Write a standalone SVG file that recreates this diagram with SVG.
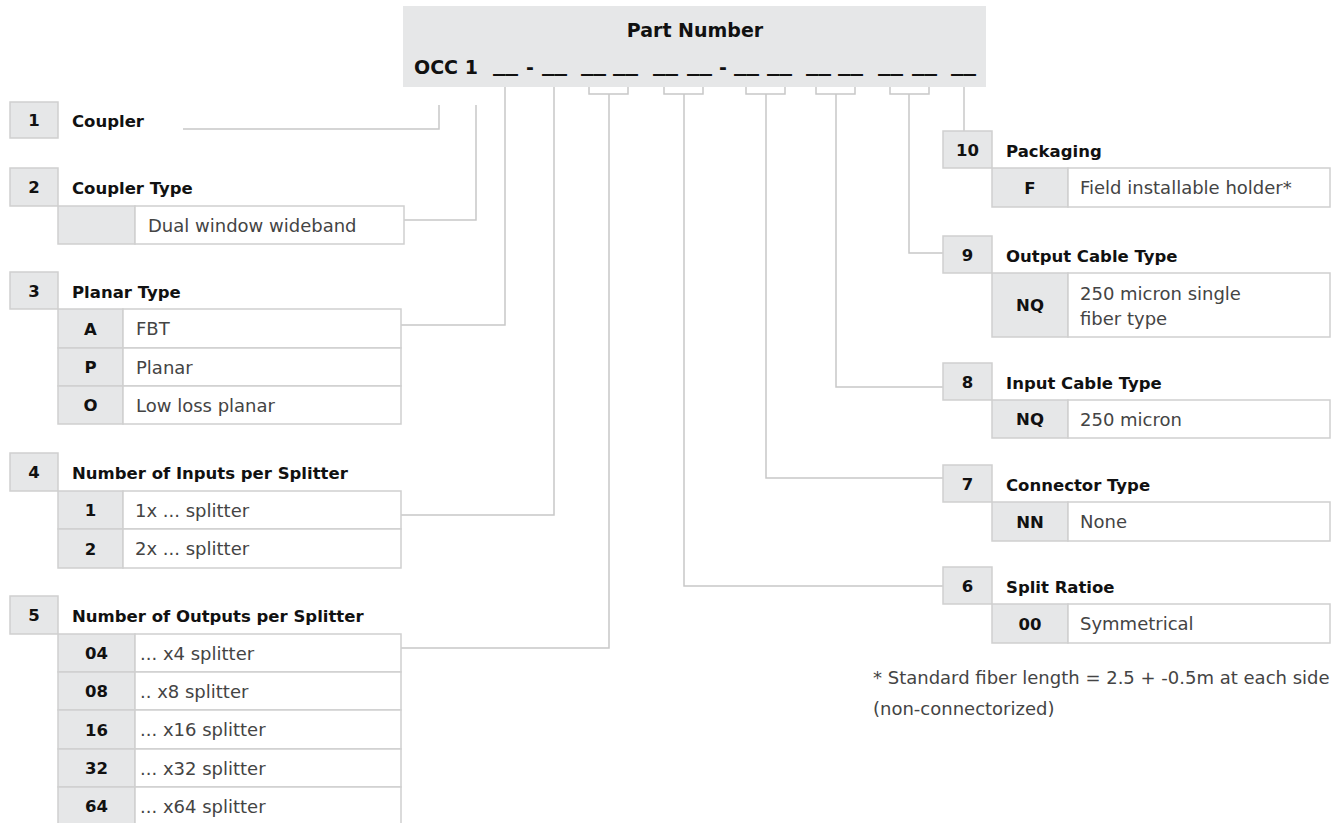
<svg xmlns="http://www.w3.org/2000/svg" width="1333" height="823" viewBox="0 0 1333 823">
<style>
.bg{fill:#ffffff}
.hdr{fill:#e6e7e8}
.box{fill:#e6e7e8;stroke:#cfcfcf;stroke-width:1.5}
.cell{fill:#ffffff;stroke:#cfcfcf;stroke-width:1.5}
.title{font-family:"DejaVu Sans",sans-serif;font-weight:bold;font-size:19px;fill:#111}
.blank{font-family:"DejaVu Sans",sans-serif;font-weight:bold;font-size:22px;fill:#111}
.lbl{font-family:"DejaVu Sans",sans-serif;font-weight:bold;font-size:16.5px;fill:#111}
.num{font-family:"DejaVu Sans",sans-serif;font-weight:bold;font-size:16.5px;fill:#111;text-anchor:middle}
.desc{font-family:"DejaVu Sans",sans-serif;font-size:18px;fill:#444}
.conn{fill:none;stroke:#c8c8c8;stroke-width:1.5}
</style>
<rect class="bg" x="0" y="0" width="1333" height="823"/>

<g id="header">
<rect class="hdr" x="403" y="6" width="583" height="81"/>
<text class="title" x="695" y="37" text-anchor="middle">Part Number</text>
<text class="title" x="414" y="74">OCC 1</text>
<text class="blank" x="493" y="71" textLength="25" lengthAdjust="spacingAndGlyphs">__</text>
<text class="title" x="530" y="74" text-anchor="middle">-</text>
<text class="blank" x="542" y="71" textLength="25" lengthAdjust="spacingAndGlyphs">__</text>
<text class="blank" x="581" y="71" textLength="25" lengthAdjust="spacingAndGlyphs">__</text>
<text class="blank" x="613" y="71" textLength="25" lengthAdjust="spacingAndGlyphs">__</text>
<text class="blank" x="653" y="71" textLength="25" lengthAdjust="spacingAndGlyphs">__</text>
<text class="blank" x="687" y="71" textLength="25" lengthAdjust="spacingAndGlyphs">__</text>
<text class="title" x="723" y="74" text-anchor="middle">-</text>
<text class="blank" x="734" y="71" textLength="25" lengthAdjust="spacingAndGlyphs">__</text>
<text class="blank" x="767" y="71" textLength="25" lengthAdjust="spacingAndGlyphs">__</text>
<text class="blank" x="806" y="71" textLength="25" lengthAdjust="spacingAndGlyphs">__</text>
<text class="blank" x="838" y="71" textLength="25" lengthAdjust="spacingAndGlyphs">__</text>
<text class="blank" x="878" y="71" textLength="25" lengthAdjust="spacingAndGlyphs">__</text>
<text class="blank" x="912" y="71" textLength="25" lengthAdjust="spacingAndGlyphs">__</text>
<text class="blank" x="951" y="71" textLength="25" lengthAdjust="spacingAndGlyphs">__</text>
</g>

<g id="connectors">
<path class="conn" d="M439,105 V129 H183"/>
<path class="conn" d="M476,105 V220 H404"/>
<path class="conn" d="M505,87 V325 H401"/>
<path class="conn" d="M554,87 V515 H401"/>
<path class="conn" d="M589,87 V94 H628 V87 M609,94 V648 H401"/>
<path class="conn" d="M664,87 V94 H703 V87 M684,94 V586 H943"/>
<path class="conn" d="M746,87 V94 H785 V87 M766,94 V478 H943"/>
<path class="conn" d="M816,87 V94 H855 V87 M836,94 V387 H943"/>
<path class="conn" d="M890,87 V94 H929 V87 M909,94 V253 H943"/>
<path class="conn" d="M964,87 V131"/>
</g>

<g id="sec1">
<rect class="box" x="10" y="102" width="48" height="36"/>
<text class="num" x="34" y="126">1</text>
<text class="lbl" x="72" y="127">Coupler</text>
</g>

<g id="sec2">
<rect class="box" x="10" y="168" width="48" height="38"/>
<text class="num" x="34" y="193">2</text>
<text class="lbl" x="72" y="194">Coupler Type</text>
<rect class="box" x="58" y="206" width="77" height="38"/>
<rect class="cell" x="135" y="206" width="269" height="38"/>
<text class="desc" x="148" y="231.5">Dual window wideband</text>
</g>

<g id="sec3">
<rect class="box" x="10" y="272" width="48" height="37"/>
<text class="num" x="34" y="296.5">3</text>
<text class="lbl" x="72" y="297.5">Planar Type</text>
<rect class="box" x="58" y="309" width="65" height="39"/>
<rect class="cell" x="123" y="309" width="278" height="39"/>
<text class="num" x="90.5" y="334.5">A</text>
<text class="desc" x="136" y="335">FBT</text>
<rect class="box" x="58" y="348" width="65" height="38"/>
<rect class="cell" x="123" y="348" width="278" height="38"/>
<text class="num" x="90.5" y="373">P</text>
<text class="desc" x="136" y="373.5">Planar</text>
<rect class="box" x="58" y="386" width="65" height="38"/>
<rect class="cell" x="123" y="386" width="278" height="38"/>
<text class="num" x="90.5" y="411">O</text>
<text class="desc" x="136" y="411.5">Low loss planar</text>
</g>

<g id="sec4">
<rect class="box" x="10" y="453" width="48" height="38"/>
<text class="num" x="34" y="478">4</text>
<text class="lbl" x="72" y="479">Number of Inputs per Splitter</text>
<rect class="box" x="58" y="491" width="65" height="38"/>
<rect class="cell" x="123" y="491" width="278" height="38"/>
<text class="num" x="90.5" y="516">1</text>
<text class="desc" x="135" y="516.5">1x ... splitter</text>
<rect class="box" x="58" y="529" width="65" height="39"/>
<rect class="cell" x="123" y="529" width="278" height="39"/>
<text class="num" x="90.5" y="554.5">2</text>
<text class="desc" x="135" y="555">2x ... splitter</text>
</g>

<g id="sec5">
<rect class="box" x="10" y="596" width="48" height="38"/>
<text class="num" x="34" y="621">5</text>
<text class="lbl" x="72" y="622">Number of Outputs per Splitter</text>
<rect class="box" x="58" y="634" width="77" height="38"/>
<rect class="cell" x="135" y="634" width="266" height="38"/>
<text class="num" x="96.5" y="659">04</text>
<text class="desc" x="140" y="659.5">... x4 splitter</text>
<rect class="box" x="58" y="672" width="77" height="38"/>
<rect class="cell" x="135" y="672" width="266" height="38"/>
<text class="num" x="96.5" y="697">08</text>
<text class="desc" x="140" y="697.5">.. x8 splitter</text>
<rect class="box" x="58" y="710" width="77" height="39"/>
<rect class="cell" x="135" y="710" width="266" height="39"/>
<text class="num" x="96.5" y="735.5">16</text>
<text class="desc" x="140" y="736">... x16 splitter</text>
<rect class="box" x="58" y="749" width="77" height="38"/>
<rect class="cell" x="135" y="749" width="266" height="38"/>
<text class="num" x="96.5" y="774">32</text>
<text class="desc" x="140" y="774.5">... x32 splitter</text>
<rect class="box" x="58" y="787" width="77" height="38"/>
<rect class="cell" x="135" y="787" width="266" height="38"/>
<text class="num" x="96.5" y="812">64</text>
<text class="desc" x="140" y="812.5">... x64 splitter</text>
</g>

<g id="sec10">
<rect class="box" x="943" y="131" width="49" height="37"/>
<text class="num" x="967.5" y="155.5">10</text>
<text class="lbl" x="1006" y="156.5">Packaging</text>
<rect class="box" x="992" y="168" width="76" height="39"/>
<rect class="cell" x="1068" y="168" width="262" height="39"/>
<text class="num" x="1030" y="193.5">F</text>
<text class="desc" x="1080" y="194">Field installable holder*</text>
</g>

<g id="sec9">
<rect class="box" x="943" y="236" width="49" height="37"/>
<text class="num" x="967.5" y="260.5">9</text>
<text class="lbl" x="1006" y="261.5">Output Cable Type</text>
<rect class="box" x="992" y="273" width="76" height="64"/>
<rect class="cell" x="1068" y="273" width="262" height="64"/>
<text class="num" x="1030" y="311">NQ</text>
<text class="desc" x="1080" y="300">250 micron single</text>
<text class="desc" x="1080" y="325">fiber type</text>
</g>

<g id="sec8">
<rect class="box" x="943" y="363" width="49" height="37"/>
<text class="num" x="967.5" y="387.5">8</text>
<text class="lbl" x="1006" y="388.5">Input Cable Type</text>
<rect class="box" x="992" y="400" width="76" height="38"/>
<rect class="cell" x="1068" y="400" width="262" height="38"/>
<text class="num" x="1030" y="425">NQ</text>
<text class="desc" x="1080" y="425.5">250 micron</text>
</g>

<g id="sec7">
<rect class="box" x="943" y="465" width="49" height="37"/>
<text class="num" x="967.5" y="489.5">7</text>
<text class="lbl" x="1006" y="490.5">Connector Type</text>
<rect class="box" x="992" y="502" width="76" height="39"/>
<rect class="cell" x="1068" y="502" width="262" height="39"/>
<text class="num" x="1030" y="527.5">NN</text>
<text class="desc" x="1080" y="528">None</text>
</g>

<g id="sec6">
<rect class="box" x="943" y="567" width="49" height="37"/>
<text class="num" x="967.5" y="591.5">6</text>
<text class="lbl" x="1006" y="592.5">Split Ratioe</text>
<rect class="box" x="992" y="604" width="76" height="39"/>
<rect class="cell" x="1068" y="604" width="262" height="39"/>
<text class="num" x="1030" y="629.5">00</text>
<text class="desc" x="1080" y="630">Symmetrical</text>
</g>

<g id="footnote">
<text class="desc" x="873" y="684">* Standard fiber length = 2.5 + -0.5m at each side</text>
<text class="desc" x="873" y="715">(non-connectorized)</text>
</g>
</svg>
